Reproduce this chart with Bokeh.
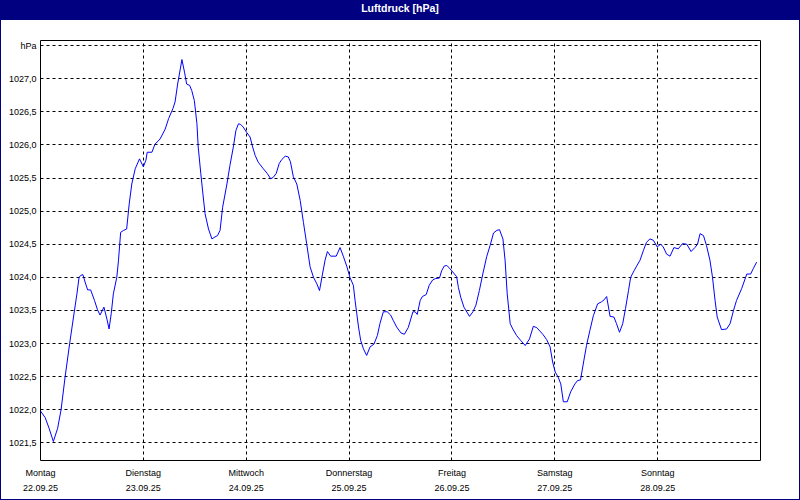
from bokeh.plotting import figure
from bokeh.models import Range1d, FixedTicker, Div, Column, Row
from bokeh.embed import file_html
from bokeh.resources import INLINE

# hours since Monday 22.09.25 00:00
hours = [0.0, 1.1, 2.0, 3.0, 4.0, 4.8, 5.75, 6.8, 7.7, 8.5, 9.0, 9.4, 9.9, 10.4, 11.0, 11.7, 12.6, 13.3, 13.9,
         14.8, 15.5, 16.0, 16.5, 17.0, 17.8, 18.2, 18.7, 19.4, 20.1, 20.7, 21.3, 22.1, 23.1, 24.0, 24.6, 24.9,
         26.0, 26.7, 27.9, 29.1, 29.9, 30.9, 31.4, 32.0, 33.0, 33.6, 34.1, 34.8, 35.3, 35.9, 36.5, 36.8, 37.4,
         37.9, 38.4, 39.2, 40.0, 40.7, 41.3, 41.9, 42.5, 43.5, 44.2, 45.0, 45.6, 46.2, 46.7, 47.3, 48.1, 48.9,
         49.5, 50.1, 50.8, 52.0, 52.9, 53.7, 54.3, 55.0, 55.7, 56.3, 57.1, 57.8, 58.3, 59.0, 59.8, 60.6, 61.35,
         62.1, 62.9, 63.7, 64.5, 65.1, 65.8, 66.4, 66.95, 67.7, 69.0, 69.9, 70.7, 71.5, 72.2, 73.0, 73.4, 73.8,
         74.2, 74.7, 75.35, 76.1, 76.9, 77.8, 78.6, 79.2, 80.0, 80.9, 81.7, 82.3, 83.1, 84.1, 84.9, 85.8, 86.4,
         86.9, 87.4, 87.9, 88.6, 89.1, 90.0, 90.7, 91.5, 92.1, 93.1, 93.6, 94.2, 94.8, 95.4, 96.2, 97.1, 97.5,
         98.05, 98.8, 100.1, 100.9, 101.6, 102.4, 103.2, 104.1, 104.9, 105.7, 106.5, 107.1, 107.9, 108.4, 108.9,
         109.6, 110.2, 111.1, 112.0, 113.1, 114.1, 115.0, 115.8, 117.2, 118.1, 118.9, 119.5, 120.1, 120.8, 121.4,
         122.0, 122.9, 123.7, 124.7, 125.3, 126.0, 126.8, 127.4, 128.2, 129.0, 130.0, 130.9, 131.5, 132.1, 132.9,
         133.8, 134.4, 135.1, 135.85, 136.5, 137.2, 137.7, 138.5, 139.1, 139.9, 140.7, 141.4, 142.2, 143.0,
         143.9, 144.7, 145.3, 146.1, 146.9, 147.8, 148.8, 149.8, 150.8, 151.8, 152.7, 153.3, 153.9, 154.7,
         155.4, 156.2, 156.8, 157.4, 157.9, 158.9, 160.1, 160.9, 161.7, 162.4, 163.6, 164.8, 165.7, 166.3, 167.1]

pressure = [1021.98, 1021.88, 1021.72, 1021.52, 1021.72, 1022.00, 1022.50, 1023.00, 1023.40, 1023.75, 1024.00,
            1024.03, 1024.04, 1023.93, 1023.81, 1023.81, 1023.65, 1023.51, 1023.43, 1023.55, 1023.37, 1023.22,
            1023.45, 1023.75, 1024.00, 1024.26, 1024.68, 1024.71, 1024.73, 1025.11, 1025.41, 1025.64, 1025.79,
            1025.67, 1025.77, 1025.89, 1025.89, 1026.01, 1026.09, 1026.24, 1026.40, 1026.55, 1026.65, 1026.92,
            1027.29, 1027.10, 1026.92, 1026.90, 1026.82, 1026.67, 1026.32, 1025.97, 1025.57, 1025.26, 1024.96,
            1024.73, 1024.58, 1024.61, 1024.63, 1024.71, 1025.06, 1025.41, 1025.69, 1025.97, 1026.22, 1026.32,
            1026.31, 1026.27, 1026.19, 1026.12, 1025.97, 1025.84, 1025.74, 1025.64, 1025.57, 1025.49, 1025.51,
            1025.57, 1025.72, 1025.78, 1025.83, 1025.82, 1025.75, 1025.52, 1025.41, 1025.16, 1024.83, 1024.51,
            1024.16, 1024.00, 1023.90, 1023.80, 1024.05, 1024.26, 1024.39, 1024.32, 1024.32, 1024.45, 1024.31,
            1024.16, 1024.00, 1023.88, 1023.65, 1023.45, 1023.25, 1023.05, 1022.92, 1022.82, 1022.95, 1022.99,
            1023.12, 1023.30, 1023.48, 1023.48, 1023.43, 1023.35, 1023.25, 1023.16, 1023.14, 1023.24, 1023.37,
            1023.48, 1023.48, 1023.44, 1023.65, 1023.71, 1023.74, 1023.88, 1023.96, 1023.98, 1023.99, 1024.10,
            1024.17, 1024.18, 1024.14, 1024.08, 1024.01, 1023.85, 1023.70, 1023.55, 1023.41, 1023.48, 1023.58,
            1023.80, 1024.05, 1024.31, 1024.48, 1024.67, 1024.71, 1024.72, 1024.58, 1024.26, 1023.75, 1023.30,
            1023.22, 1023.12, 1023.05, 1022.97, 1023.07, 1023.26, 1023.24, 1023.14, 1023.06, 1022.95, 1022.72,
            1022.57, 1022.49, 1022.39, 1022.12, 1022.12, 1022.27, 1022.39, 1022.44, 1022.45, 1022.75, 1022.97,
            1023.20, 1023.42, 1023.60, 1023.63, 1023.66, 1023.71, 1023.41, 1023.40, 1023.30, 1023.17, 1023.30,
            1023.53, 1023.80, 1024.00, 1024.10, 1024.17, 1024.26, 1024.41, 1024.53, 1024.58, 1024.56, 1024.46,
            1024.50, 1024.46, 1024.35, 1024.32, 1024.45, 1024.43, 1024.51, 1024.50, 1024.39, 1024.45, 1024.50,
            1024.66, 1024.63, 1024.48, 1024.26, 1024.00, 1023.65, 1023.40, 1023.21, 1023.22, 1023.30, 1023.50,
            1023.65, 1023.83, 1024.05, 1024.05, 1024.13, 1024.23]

day_ticks = [0, 24, 48, 72, 96, 120, 144]
day_names = ["Montag", "Dienstag", "Mittwoch", "Donnerstag", "Freitag", "Samstag", "Sonntag"]
day_dates = ["22.09.25", "23.09.25", "24.09.25", "25.09.25", "26.09.25", "27.09.25", "28.09.25"]

y_ticks = [1021.5, 1022.0, 1022.5, 1023.0, 1023.5, 1024.0, 1024.5, 1025.0, 1025.5, 1026.0, 1026.5, 1027.0, 1027.5]
y_labels = ["1021,5", "1022,0", "1022,5", "1023,0", "1023,5", "1024,0", "1024,5", "1025,0", "1025,5",
            "1026,0", "1026,5", "1027,0", "hPa"]

title_text = "Luftdruck [hPa]"

FONT = "Liberation Sans"
NAVY = "#000080"

W = 800
TITLE_H = 20
EDGE = 1
FW = W - 2 * EDGE
FH = 500 - TITLE_H - EDGE

p = figure(width=FW, height=FH, output_backend="svg", toolbar_location=None,
           x_range=Range1d(0, 168), y_range=Range1d(1021.233, 1027.578),
           min_border_left=40 - EDGE, min_border_right=40 - EDGE, min_border_top=20, min_border_bottom=39,
           background_fill_color="white", border_fill_color="white", margin=0)
p.outline_line_color = "black"
p.outline_line_width = 1

p.line(hours, pressure, line_color="#0000FF", line_width=1)

p.xaxis.ticker = FixedTicker(ticks=day_ticks)
p.xaxis.major_label_overrides = {t: f"{n}\n{d}" for t, n, d in zip(day_ticks, day_names, day_dates)}
p.yaxis.ticker = FixedTicker(ticks=y_ticks)
p.yaxis.major_label_overrides = {t: l for t, l in zip(y_ticks, y_labels)}

for ax in (p.xaxis, p.yaxis):
    ax.axis_line_color = None
    ax.major_tick_line_color = None
    ax.minor_tick_line_color = None
    ax.major_tick_out = 0
    ax.major_tick_in = 0
    ax.minor_tick_out = 0
    ax.minor_tick_in = 0
    ax.major_label_text_font = FONT
    ax.major_label_text_font_size = "9px"
    ax.major_label_text_color = "black"
p.yaxis.major_label_standoff = 4
p.xaxis.major_label_standoff = 7
p.xaxis.major_label_text_line_height = 1.556

for g in (p.xgrid, p.ygrid):
    g.grid_line_color = "black"
    g.grid_line_dash = "3 3"
    g.grid_line_width = 1
    g.grid_line_alpha = 1.0

div = Div(text=title_text, width=W, height=TITLE_H, margin=0,
          styles={"background-color": NAVY, "color": "white", "font-family": FONT,
                  "font-weight": "bold", "font-size": "10.5px", "text-align": "center",
                  "line-height": "17px", "margin": "0", "padding": "0"})


def strip(w, h):
    return Div(text="", width=w, height=h, margin=0,
               styles={"background-color": NAVY, "margin": "0", "padding": "0"})


middle = Row(children=[strip(EDGE, FH), p, strip(EDGE, FH)], spacing=0, margin=0)
layout = Column(children=[div, middle, strip(W, EDGE)], spacing=0, margin=0,
                styles={"background-color": "white"})

open("out.html", "w").write(file_html(layout, INLINE))
